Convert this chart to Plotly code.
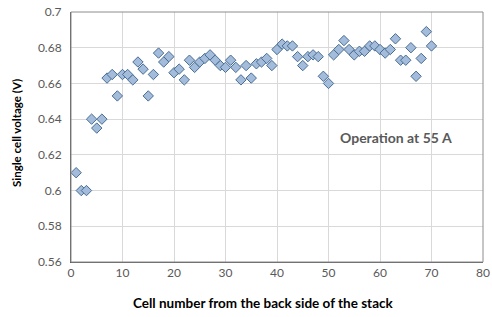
import plotly.graph_objects as go

cells = list(range(1, 71))
voltage = [0.610, 0.600, 0.600, 0.640, 0.635, 0.640, 0.663, 0.665, 0.653, 0.665,
           0.665, 0.662, 0.672, 0.668, 0.653, 0.665, 0.677, 0.672, 0.675, 0.666,
           0.668, 0.662, 0.673, 0.669, 0.672, 0.674, 0.676, 0.673, 0.670, 0.669,
           0.673, 0.669, 0.662, 0.670, 0.663, 0.671, 0.672, 0.674, 0.670, 0.679,
           0.682, 0.681, 0.681, 0.675, 0.670, 0.675, 0.676, 0.675, 0.664, 0.660,
           0.676, 0.679, 0.684, 0.679, 0.676, 0.678, 0.678, 0.681, 0.681, 0.679,
           0.677, 0.679, 0.685, 0.673, 0.673, 0.680, 0.664, 0.674, 0.689, 0.681]

x_title = "Cell number from the back side of the stack"
y_title = "Single cell voltage (V)"
note = "Operation at 55 A"

FONT = "Lato"

fig = go.Figure()
fig.add_trace(go.Scatter(
    x=cells, y=voltage, mode="markers",
    marker=dict(symbol="diamond", size=8, color="#a3bcdb",
                line=dict(color="#4a6d92", width=1)),
    showlegend=False,
))

fig.update_layout(
    template="none",
    width=492, height=317,
    margin=dict(l=71, r=9, t=12, b=55, autoexpand=False),
    paper_bgcolor="white", plot_bgcolor="white",
    font=dict(family=FONT, size=12, color="#595959"),
    xaxis=dict(range=[0, 80], dtick=10, tick0=0, showgrid=True, automargin=False,
               gridcolor="#d9d9d9", gridwidth=1, zeroline=False,
               showline=True, linecolor="#595959", linewidth=1,
               ticks="", tickfont=dict(size=12, color="#595959")),
    yaxis=dict(range=[0.56, 0.70], dtick=0.02, tick0=0.56, showgrid=True, automargin=False,
               gridcolor="#d9d9d9", gridwidth=1, zeroline=False,
               showline=True, linecolor="#595959", linewidth=1,
               ticks="", tickfont=dict(size=12, color="#595959"),
               tickformat="~g", ticklabelstandoff=6),
    shapes=[dict(type="rect", xref="paper", yref="paper", x0=0, y0=0, x1=1, y1=1,
                 line=dict(color="#8c8c8c", width=1), fillcolor="rgba(0,0,0,0)")],
    annotations=[
        dict(text="<b>" + x_title + "</b>", xref="paper", yref="paper",
             x=0.465, y=-0.164, xanchor="center", yanchor="middle",
             showarrow=False, font=dict(family=FONT, size=13.5, color="#000000")),
        dict(text="<b>" + y_title + "</b>", xref="paper", yref="paper",
             x=-0.1335, y=0.516, xanchor="center", yanchor="middle", textangle=-90,
             showarrow=False, font=dict(family=FONT, size=11.5, color="#000000")),
        dict(text="<b>" + note + "</b>", xref="paper", yref="paper",
             x=0.789, y=0.498, xanchor="center", yanchor="middle",
             showarrow=False, font=dict(family=FONT, size=14, color="#595959")),
    ],
)

fig.write_html("out.html", config={"displayModeBar": False},
               post_script="document.body.style.margin='0px';document.body.style.overflow='hidden';")
